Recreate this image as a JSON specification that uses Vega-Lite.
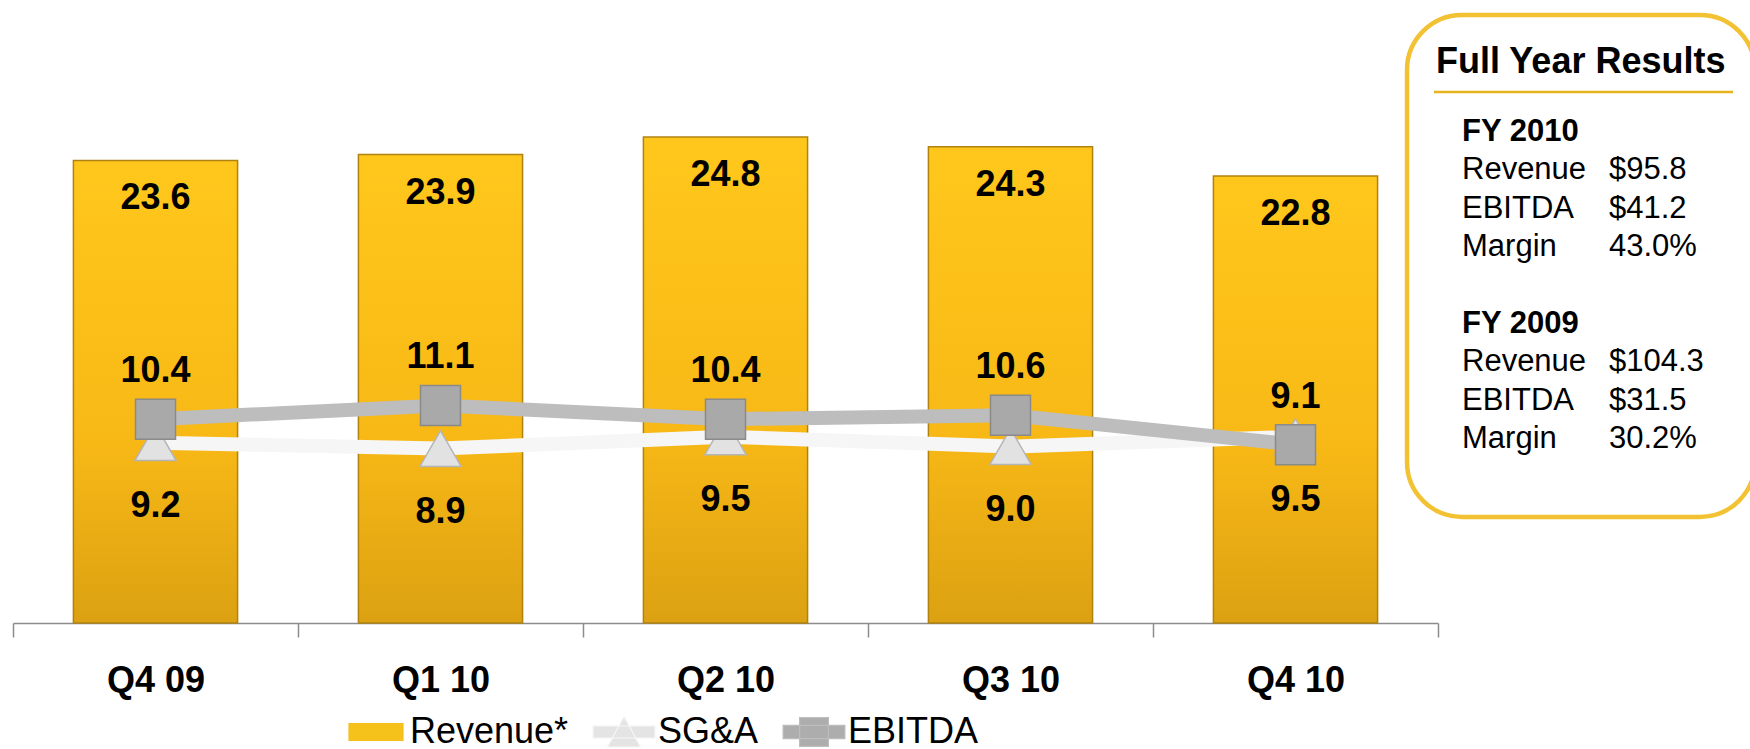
{
  "$schema": "https://vega.github.io/schema/vega-lite/v6.json",
  "background": "white",
  "padding": {"left": 12, "top": 12, "right": 0, "bottom": 0},
  "bounds": "flush",
  "spacing": 0,
  "config": {"view": {"stroke": null}, "font": "Liberation Sans"},
  "datasets": {
    "q": [
      {"q": "Q4 09", "s": "Revenue*", "v": 23.6},
      {"q": "Q1 10", "s": "Revenue*", "v": 23.9},
      {"q": "Q2 10", "s": "Revenue*", "v": 24.8},
      {"q": "Q3 10", "s": "Revenue*", "v": 24.3},
      {"q": "Q4 10", "s": "Revenue*", "v": 22.8},
      {"q": "Q4 09", "s": "SG&A", "v": 9.2},
      {"q": "Q1 10", "s": "SG&A", "v": 8.9},
      {"q": "Q2 10", "s": "SG&A", "v": 9.5},
      {"q": "Q3 10", "s": "SG&A", "v": 9.0},
      {"q": "Q4 10", "s": "SG&A", "v": 9.5},
      {"q": "Q4 09", "s": "EBITDA", "v": 10.4},
      {"q": "Q1 10", "s": "EBITDA", "v": 11.1},
      {"q": "Q2 10", "s": "EBITDA", "v": 10.4},
      {"q": "Q3 10", "s": "EBITDA", "v": 10.6},
      {"q": "Q4 10", "s": "EBITDA", "v": 9.1}
    ],
    "fy": [
      {"kind": "title", "text": "Full Year Results", "col": 0, "line": -2},
      {"kind": "head", "text": "FY 2010", "col": 0, "line": 0},
      {"kind": "label", "text": "Revenue", "col": 0, "line": 1},
      {"kind": "value", "text": "$95.8", "col": 1, "line": 1},
      {"kind": "label", "text": "EBITDA", "col": 0, "line": 2},
      {"kind": "value", "text": "$41.2", "col": 1, "line": 2},
      {"kind": "label", "text": "Margin", "col": 0, "line": 3},
      {"kind": "value", "text": "43.0%", "col": 1, "line": 3},
      {"kind": "head", "text": "FY 2009", "col": 0, "line": 5},
      {"kind": "label", "text": "Revenue", "col": 0, "line": 6},
      {"kind": "value", "text": "$104.3", "col": 1, "line": 6},
      {"kind": "label", "text": "EBITDA", "col": 0, "line": 7},
      {"kind": "value", "text": "$31.5", "col": 1, "line": 7},
      {"kind": "label", "text": "Margin", "col": 0, "line": 8},
      {"kind": "value", "text": "30.2%", "col": 1, "line": 8}
    ]
  },
  "hconcat": [
    {
      "width": 1425,
      "height": 609,
      "data": {"name": "q"},
      "encoding": {
        "x": {
          "field": "q", "type": "nominal", "sort": null,
          "scale": {"paddingInner": 0, "paddingOuter": 0},
          "axis": {
            "title": null, "labelAngle": 0, "labelFont": "Liberation Sans", "labelFontSize": 36,
            "labelFontWeight": "bold", "labelColor": "#000000", "labelPadding": 26,
            "tickSize": 14, "tickColor": "#8C8C8C", "tickWidth": 1.5,
            "domainColor": "#8C8C8C", "domainWidth": 1.5, "tickBand": "extent", "grid": false
          }
        },
        "y": {
          "field": "v", "type": "quantitative",
          "scale": {"domain": [0, 31.07], "nice": false, "zero": true},
          "axis": null
        }
      },
      "layer": [
        {
          "transform": [{"filter": "datum.s === 'Revenue*'"}],
          "mark": {
            "type": "bar", "width": {"band": 0.576},
            "color": {"gradient": "linear", "x1": 0, "y1": 0, "x2": 0, "y2": 1,
              "stops": [{"offset": 0, "color": "#FFC71C"}, {"offset": 0.6, "color": "#F8B916"}, {"offset": 1, "color": "#DCA112"}]},
            "stroke": "#B08210", "strokeWidth": 1.5
          }
        },
        {
          "transform": [{"filter": "datum.s === 'Revenue*'"}],
          "mark": {"type": "text", "dy": 38, "fontSize": 36, "fontWeight": "bold", "color": "#000000", "baseline": "middle", "font": "Liberation Sans"},
          "encoding": {"text": {"field": "v", "type": "quantitative", "format": ".1f"}}
        },
        {
          "transform": [{"filter": "datum.s === 'SG&A'"}],
          "mark": {"type": "line", "strokeWidth": 14},
          "encoding": {
            "color": {
              "field": "s", "type": "nominal",
              "scale": {"domain": ["Revenue*", "SG&A", "EBITDA"], "range": ["#F5C11B", "#F6F6F6", "#BDBDBD"]},
              "legend": {
                "orient": "none", "legendX": 332, "legendY": 687, "direction": "horizontal", "title": null,
                "padding": 0, "labelFont": "Liberation Sans", "labelFontSize": 36, "labelColor": "#000000",
                "symbolSize": 3600, "columnPadding": 21, "labelOffset": 3,
                "encode": {"symbols": {"update": {
                  "shape": {"signal": "datum.value === 'Revenue*' ? 'M-0.9,-0.28H0.9V0.28H-0.9Z' : (datum.value === 'SG&A' ? 'M-1.03,-0.2H1.03V0.2H-1.03Z M0,-0.52L0.55,0.5L-0.55,0.5Z' : 'M-1.03,-0.22H1.03V0.22H-1.03Z M-0.48,-0.48H0.48V0.48H-0.48Z')"},
                  "fill": {"signal": "datum.value === 'Revenue*' ? '#F5C11B' : (datum.value === 'SG&A' ? '#E4E4E4' : '#ADADAD')"},
                  "stroke": {"signal": "datum.value === 'Revenue*' ? '#A07608' : 'transparent'"},
                  "strokeWidth": {"value": 1.2},
                  "opacity": {"value": 1},
                  "fillOpacity": {"value": 1}
                }}}
              }
            }
          }
        },
        {
          "transform": [{"filter": "datum.s === 'EBITDA'"}],
          "mark": {"type": "line", "strokeWidth": 14},
          "encoding": {"color": {"field": "s", "type": "nominal"}}
        },
        {
          "transform": [{"filter": "datum.s === 'SG&A'"}],
          "mark": {"type": "point", "shape": "triangle-up", "filled": true, "size": 1700, "fill": "#E2E2E2", "stroke": "#B5B5B5", "strokeWidth": 1.5, "opacity": 1}
        },
        {
          "transform": [{"filter": "datum.s === 'EBITDA'"}],
          "mark": {"type": "point", "shape": "square", "filled": true, "size": 1600, "fill": "#A9A9A9", "stroke": "#8A8A8A", "strokeWidth": 1.5, "opacity": 1}
        },
        {
          "transform": [{"filter": "datum.s === 'SG&A'"}],
          "mark": {"type": "text", "dy": 63, "fontSize": 36, "fontWeight": "bold", "color": "#000000", "baseline": "middle", "font": "Liberation Sans"},
          "encoding": {"text": {"field": "v", "type": "quantitative", "format": ".1f"}}
        },
        {
          "transform": [{"filter": "datum.s === 'EBITDA'"}],
          "mark": {"type": "text", "dy": -48, "fontSize": 36, "fontWeight": "bold", "color": "#000000", "baseline": "middle", "font": "Liberation Sans"},
          "encoding": {"text": {"field": "v", "type": "quantitative", "format": ".1f"}}
        }
      ]
    },
    {
      "width": 312,
      "height": 504,
      "data": {"name": "fy"},
      "encoding": {
        "x": {"field": "col", "type": "quantitative", "scale": {"domain": [-0.1633, 1.9592], "nice": false, "zero": false}, "axis": null},
        "y": {"field": "line", "type": "quantitative", "scale": {"domain": [-3.307, 9.818], "nice": false, "zero": false, "reverse": true}, "axis": null}
      },
      "layer": [
        {
          "transform": [{"filter": "datum.kind === 'title'"}],
          "mark": {"type": "rect", "filled": false, "color": "#F2C232", "strokeWidth": 4.5, "cornerRadius": 55},
          "encoding": {
            "x": {"datum": -0.3741, "type": "quantitative"},
            "x2": {"datum": 1.9932},
            "y": {"datum": -3.281, "type": "quantitative"},
            "y2": {"datum": 9.79}
          }
        },
        {
          "transform": [{"filter": "datum.kind === 'title'"}],
          "mark": {"type": "text", "align": "left", "baseline": "alphabetic", "fontSize": 36, "fontWeight": "bold", "dx": -26, "dy": 8.5, "color": "#000000", "font": "Liberation Sans"},
          "encoding": {"text": {"field": "text"}}
        },
        {
          "transform": [{"filter": "datum.kind === 'title'"}],
          "mark": {"type": "rule", "color": "#E8B41E", "strokeWidth": 2.5},
          "encoding": {
            "x": {"datum": -0.1905, "type": "quantitative"},
            "x2": {"datum": 1.8435},
            "y": {"datum": -1.276, "type": "quantitative"}
          }
        },
        {
          "transform": [{"filter": "datum.kind === 'head'"}],
          "mark": {"type": "text", "align": "left", "baseline": "alphabetic", "fontSize": 31, "fontWeight": "bold", "color": "#000000", "font": "Liberation Sans"},
          "encoding": {"text": {"field": "text"}}
        },
        {
          "transform": [{"filter": "datum.kind === 'label' || datum.kind === 'value'"}],
          "mark": {"type": "text", "align": "left", "baseline": "alphabetic", "fontSize": 31, "color": "#000000", "font": "Liberation Sans"},
          "encoding": {"text": {"field": "text"}}
        }
      ]
    }
  ]
}
